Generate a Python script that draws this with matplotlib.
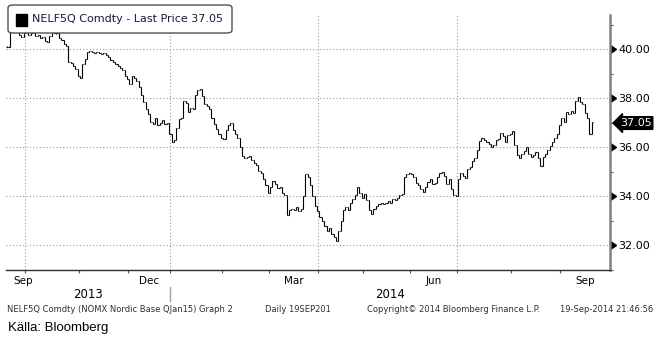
import numpy as np
import pandas as pd
import matplotlib
matplotlib.use("Agg")
import matplotlib.pyplot as plt
import matplotlib.transforms as mtransforms
from matplotlib.collections import LineCollection
from matplotlib.patches import FancyBboxPatch, Rectangle

# trading calendar (Nordic exchange holidays removed)
holidays = ["2013-12-24", "2013-12-25", "2013-12-26", "2013-12-31", "2014-01-01",
            "2014-04-17", "2014-04-18", "2014-04-21", "2014-05-01", "2014-05-29", "2014-06-09"]
start_date = "2013-09-19"
end_date = "2014-09-19"

# daily closing prices, NELF5Q Comdty (EUR/MWh)
close = [
    40.10, 40.70, 40.85, 40.75, 40.80, 40.60, 40.50, 40.65, 40.70, 40.60,
    40.65, 40.70, 40.55, 40.60, 40.45, 40.50, 40.35, 40.30, 40.55, 40.70,
    40.65, 40.65, 40.45, 40.40, 40.20, 40.15, 39.50, 39.45, 39.30, 39.20,
    38.90, 38.85, 39.40, 39.60, 39.90, 39.95, 39.90, 39.85, 39.90, 39.85,
    39.80, 39.85, 39.75, 39.70, 39.55, 39.50, 39.40, 39.30, 39.25, 39.15,
    38.90, 38.80, 38.60, 38.90, 38.85, 38.70, 38.45, 38.15, 37.85, 37.55,
    37.35, 37.05, 36.95, 37.20, 36.90, 37.00, 37.10, 36.95, 37.00, 36.55,
    36.20, 36.30, 36.80, 37.15, 37.20, 37.90, 37.80, 37.45, 37.60, 37.55,
    38.15, 38.35, 38.40, 38.10, 37.75, 37.70, 37.55, 37.20, 36.95, 36.75,
    36.55, 36.40, 36.35, 36.70, 36.90, 37.00, 36.70, 36.55, 36.40, 36.00,
    35.65, 35.55, 35.60, 35.65, 35.50, 35.35, 35.30, 35.05, 34.95, 34.70,
    34.45, 34.15, 34.40, 34.65, 34.50, 34.35, 34.40, 34.15, 34.05, 33.25,
    33.45, 33.50, 33.45, 33.55, 33.40, 33.50, 34.00, 34.90, 34.80, 34.45,
    34.00, 33.60, 33.40, 33.15, 33.00, 32.80, 32.60, 32.70, 32.45, 32.35,
    32.20, 32.60, 33.00, 33.45, 33.55, 33.45, 33.75, 33.90, 34.05, 34.40,
    34.15, 33.95, 34.10, 33.85, 33.45, 33.30, 33.50, 33.60, 33.70, 33.75,
    33.70, 33.75, 33.80, 33.75, 33.90, 33.85, 33.95, 34.05, 34.10, 34.80,
    34.90, 34.95, 34.90, 34.80, 34.55, 34.45, 34.30, 34.20, 34.40, 34.60,
    34.70, 34.50, 34.55, 34.80, 34.95, 35.00, 34.85, 34.50, 34.70, 34.30,
    34.05, 34.00, 34.70, 34.95, 34.85, 34.75, 35.10, 35.20, 35.45, 35.55,
    35.90, 36.25, 36.40, 36.30, 36.20, 36.15, 36.00, 36.10, 36.30, 36.35,
    36.60, 36.45, 36.20, 36.50, 36.55, 36.65, 36.10, 35.70, 35.55, 35.75,
    35.85, 36.00, 35.75, 35.60, 35.70, 35.80, 35.55, 35.25, 35.60, 35.75,
    35.90, 36.05, 36.20, 36.40, 36.55, 36.90, 37.20, 37.05, 37.45, 37.35,
    37.50, 37.40, 37.90, 38.05, 37.85, 37.75, 37.40, 37.20, 36.55, 37.05,
]

y_major = [32, 34, 36, 38, 40]
y_minor = [31, 33, 35, 37, 39, 41]
month_labels = {(2013, 9): "Sep", (2013, 12): "Dec", (2014, 3): "Mar", (2014, 6): "Jun", (2014, 9): "Sep"}
title = "NELF5Q Comdty - Last Price 37.05"
last_price = 37.05

W, H = 661, 342
fig = plt.figure(figsize=(W / 100, H / 100), dpi=100)
fig.patch.set_facecolor("white")

def fx(px):
    return px / W

def fy(py):
    return 1 - py / H

ax_l, ax_r, ax_t, ax_b = 6, 610, 15, 270
ax = fig.add_axes([fx(ax_l), fy(ax_b), fx(ax_r - ax_l), (ax_b - ax_t) / H])

dates = pd.bdate_range(start_date, end_date, freq="C", holidays=holidays)
n = min(len(dates), len(close))
dates = dates[:n]
c = np.array(close[:n])
o = np.r_[c[0], c[:-1]]
idx = np.arange(n)

segs = []
w = 0.45
for i in idx:
    lo, hi = min(o[i], c[i]), max(o[i], c[i])
    if hi - lo < 0.02:
        lo -= 0.02
        hi += 0.02
    segs.append([(i, lo), (i, hi)])
    segs.append([(i - w, o[i]), (i, o[i])])
    segs.append([(i, c[i]), (i + w, c[i])])
ax.add_collection(LineCollection(segs, colors="black", linewidths=0.8))

xmax = -0.5 + (ax_r - ax_l) / 2.348
ax.set_xlim(-0.5, xmax)
ax.set_ylim(31.28, 41.40)

# month boundaries
s = pd.Series(idx, index=dates)
month_start = s.groupby([dates.year, dates.month]).min()
bounds = {k: v - 0.5 for k, v in month_start.items()}
keys = list(bounds.keys())

grid_kw = dict(color="#9a9a9a", lw=0.8, ls=(0, (1, 2)), zorder=0)
for (yr, mo), b in bounds.items():
    if mo in (1, 4, 7, 10) and b > 0:
        ax.axvline(b, **grid_kw)
for v in y_major:
    ax.axhline(v, **grid_kw)

ax.set_xticks([b for b in bounds.values() if b > 0])
ax.set_xticklabels([])
ax.tick_params(axis="x", length=2.5, width=0.8, color="#505050", direction="out")

ax.yaxis.tick_right()
ax.set_yticks(y_major)
ax.set_yticks(y_minor, minor=True)
ax.set_yticklabels([f"{v:.2f}" for v in y_major])
ax.tick_params(axis="y", which="major", length=0, pad=6, labelsize=8)
ax.tick_params(axis="y", which="minor", length=2.5, width=0.8, color="#505050")

for side in ("top", "left"):
    ax.spines[side].set_visible(False)
ax.spines["right"].set_color("#808080")
ax.spines["right"].set_linewidth(1.8)
ax.spines["bottom"].set_color("#303030")
ax.spines["bottom"].set_linewidth(1.0)

# triangle markers on the price axis
tri = mtransforms.blended_transform_factory(ax.transAxes, ax.transData)
ax.plot([1.0] * len(y_major), y_major, ls="none", marker=9, ms=6, color="black",
        transform=tri, clip_on=False)

# last price tag
ax.annotate(f"{last_price:.2f}", xy=(1.0, last_price), xycoords=tri,
            xytext=(7, -1), textcoords="offset points", ha="left", va="center",
            fontsize=8, color="white",
            bbox=dict(boxstyle="larrow,pad=0.12", fc="black", ec="black"))

# month and year labels
bt = mtransforms.blended_transform_factory(ax.transData, fig.transFigure)
for i, k in enumerate(keys):
    if k in month_labels:
        nxt = bounds[keys[i + 1]] if i + 1 < len(keys) else xmax
        mid = (max(bounds[k], -0.5) + nxt) / 2
        mid = max(mid, 7.0)
        ax.text(mid, fy(281), month_labels[k], transform=bt, ha="center", va="center",
                fontsize=7.5, clip_on=False)
jan = bounds[(2014, 1)]
ax.text((-0.5 + jan) / 2, fy(295), "2013", transform=bt, ha="center", va="center", fontsize=8.5)
ax.text((jan + xmax) / 2, fy(295), "2014", transform=bt, ha="center", va="center", fontsize=8.5)
ax.plot([jan, jan], [fy(287), fy(301)], transform=bt, color="#a0a0a0", lw=1, clip_on=False)

# legend box
fig.patches.append(FancyBboxPatch((fx(8), fy(33)), fx(224), 28 / H,
                                  boxstyle="round,pad=0,rounding_size=0.008",
                                  transform=fig.transFigure, fc="white", ec="#505050", lw=1))
fig.patches.append(Rectangle((fx(16), fy(26)), fx(11), 12 / H, transform=fig.transFigure,
                             fc="black", ec="black"))
fig.text(fx(32), fy(19.5), title, fontsize=8, color="#1a1a3a", va="center", ha="left")

# footer
foot = dict(fontsize=6, color="#303030", va="center", ha="left")
fig.text(fx(7), fy(309), "NELF5Q Comdty (NOMX Nordic Base QJan15) Graph 2", **foot)
fig.text(fx(265), fy(309), "Daily 19SEP201", **foot)
fig.text(fx(367), fy(309), "Copyright\u00a9 2014 Bloomberg Finance L.P.", **foot)
fig.text(fx(560), fy(309), "19-Sep-2014 21:46:56", **foot)
fig.text(fx(8), fy(328), "Källa: Bloomberg", fontsize=9.5, family="Liberation Sans",
         va="center", ha="left")

fig.savefig("out.png", dpi=100)
